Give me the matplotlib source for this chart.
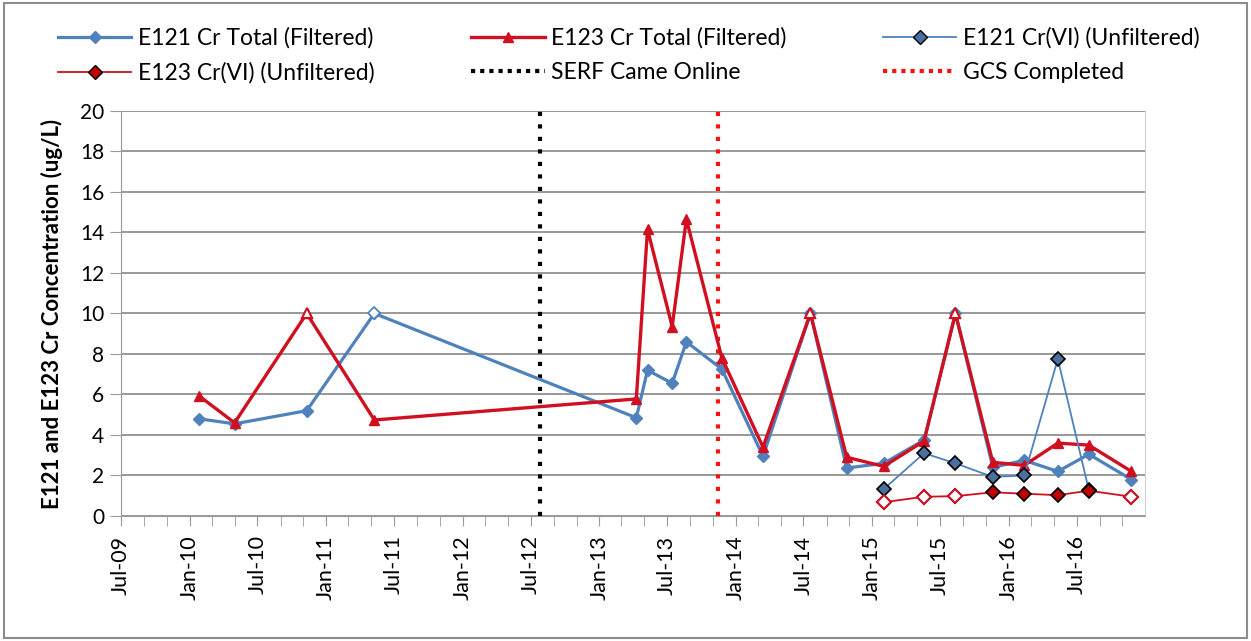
import numpy as np
import pandas as pd
import matplotlib
matplotlib.use("Agg")
import matplotlib.pyplot as plt
import matplotlib.dates as mdates
from matplotlib.lines import Line2D
from matplotlib.patches import Rectangle

plt.rcParams['font.family'] = ['Lato', 'DejaVu Sans']

# ---------------------- Data ----------------------
dates = pd.to_datetime([
    '2010-01-26', '2010-05-01', '2010-11-10', '2011-05-10', '2013-04-10',
    '2013-05-10', '2013-07-15', '2013-08-22', '2013-11-25', '2014-03-15',
    '2014-07-20', '2014-10-25', '2015-02-01', '2015-05-20', '2015-08-12',
    '2015-11-20', '2016-02-12', '2016-05-12', '2016-08-03', '2016-11-25'])

e121_total = [4.8, 4.55, 5.2, 10.0, 4.85, 7.2, 6.55, 8.6, 7.25, 2.95,
              10.0, 2.37, 2.6, 3.75, 10.0, 2.4, 2.75, 2.2, 3.05, 1.8]
e121_total_nd = [3]

e123_total = [5.93, 4.6, 10.0, 4.74, 5.78, 14.15, 9.35, 14.65, 7.8, 3.4,
              10.0, 2.9, 2.45, 3.7, 10.0, 2.65, 2.5, 3.6, 3.5, 2.2]
e123_total_nd = [2, 10, 14]

cr6_dates = dates[12:]
e121_cr6 = [1.33, 3.1, 2.6, 1.93, 2.0, 7.75, 1.28]
e123_cr6 = [0.68, 0.95, 0.98, 1.17, 1.1, 1.03, 1.25, 0.95]
e123_cr6_nd = [0, 1, 2, 7]

serf_date = pd.Timestamp('2012-07-25')
gcs_date = pd.Timestamp('2013-11-15')

x_start, x_end = pd.Timestamp('2009-07-01'), pd.Timestamp('2016-12-31')

# ---------------------- Colors ----------------------
blue = '#4F81BD'
blue_fill = '#4A6FA0'
red = '#D01020'
red_fill = '#C00000'

# ---------------------- Figure ----------------------
fig = plt.figure(figsize=(12.51, 6.41), dpi=100)
fig.patches.append(Rectangle((0.003, 0.005), 0.994, 0.99, transform=fig.transFigure,
                             fill=False, edgecolor='#8c8c8c', linewidth=1.5))
ax = fig.add_axes([0.0967, 0.195, 0.8185, 0.632])

ax.axvline(serf_date, color='black', linestyle=(0, (1, 2)), linewidth=3, zorder=2)
ax.axvline(gcs_date, color='#FF1010', linestyle=(0, (1, 2)), linewidth=3, zorder=2)

ax.plot(dates, e121_total, color=blue, lw=2.3, marker='D', ms=6.5,
        mfc=blue, mec=blue, zorder=3)
idx = np.array(e121_total_nd)
ax.plot(dates[idx], np.array(e121_total)[idx], ls='none', marker='D', ms=6.5,
        mfc='white', mec=blue, mew=1.2, zorder=3)

ax.plot(dates, e123_total, color=red, lw=2.4, marker='^', ms=6.5,
        mfc=red, mec=red, zorder=4)
idx = np.array(e123_total_nd)
ax.plot(dates[idx], np.array(e123_total)[idx], ls='none', marker='^', ms=6.5,
        mfc='white', mec=red, mew=1.5, zorder=4)

ax.plot(cr6_dates[:len(e121_cr6)], e121_cr6, color=blue, lw=1.3, marker='D', ms=7.5,
        mfc=blue_fill, mec='black', mew=1.2, zorder=5)

ax.plot(cr6_dates, e123_cr6, color=red, lw=1.3, marker='D', ms=7.5,
        mfc=red_fill, mec='black', mew=1.2, zorder=6)
idx = np.array(e123_cr6_nd)
ax.plot(cr6_dates[idx], np.array(e123_cr6)[idx], ls='none', marker='D', ms=7.5,
        mfc='white', mec=red, mew=1.5, zorder=6)

# ---------------------- Axes formatting ----------------------
ax.set_xlim(x_start, x_end)
ax.set_ylim(0, 20)
ax.set_yticks(np.arange(0, 21, 2))
ax.xaxis.set_major_locator(mdates.MonthLocator(bymonth=[1, 7]))
ax.xaxis.set_minor_locator(mdates.MonthLocator(bymonth=[1, 3, 5, 7, 9, 11]))
ax.xaxis.set_major_formatter(mdates.DateFormatter('%b-%y'))
plt.setp(ax.get_xticklabels(), rotation=90, ha='center')

ax.grid(axis='y', color='#868686', linewidth=1.2)
ax.set_axisbelow(True)
for side in ['left', 'bottom']:
    ax.spines[side].set_color('#9a9a9a')
ax.spines['right'].set_color('#d0d0d0')
ax.spines['top'].set_visible(False)

ax.tick_params(axis='both', which='both', direction='out', color='#9a9a9a')
ax.tick_params(axis='x', which='both', length=7, labelsize=15.5, pad=7)
ax.tick_params(axis='y', length=8, labelsize=15, pad=4)

ax.set_ylabel('E121 and E123 Cr Concentration (ug/L)', fontsize=16,
              fontweight='bold', labelpad=12)

# ---------------------- Legend ----------------------
h_e121 = Line2D([], [], color=blue, lw=2.3, marker='D', ms=6.5, mfc=blue, mec=blue)
h_e123 = Line2D([], [], color=red, lw=2.4, marker='^', ms=6.5, mfc=red, mec=red)
h_e121c = Line2D([], [], color=blue, lw=1.3, marker='D', ms=7, mfc=blue_fill, mec='black')
h_e123c = Line2D([], [], color=red, lw=1.3, marker='D', ms=7, mfc=red_fill, mec='black')
h_serf = Line2D([], [], color='black', lw=3, linestyle=(0, (1, 1.2)))
h_gcs = Line2D([], [], color='#FF1010', lw=3, linestyle=(0, (1, 1.2)))

handles = [h_e121, h_e123c, h_e123, h_serf, h_e121c, h_gcs]
labels = ['E121 Cr Total (Filtered)', 'E123 Cr(VI) (Unfiltered)',
          'E123 Cr Total (Filtered)', 'SERF Came Online',
          'E121 Cr(VI) (Unfiltered)', 'GCS Completed']
fig.legend(handles, labels, ncol=3, loc='upper left', bbox_to_anchor=(0.03, 0.99),
           frameon=False, fontsize=16.5, handlelength=3.2, columnspacing=4.2,
           labelspacing=0.6, handletextpad=0.3)

plt.savefig('out.png', dpi=100)
